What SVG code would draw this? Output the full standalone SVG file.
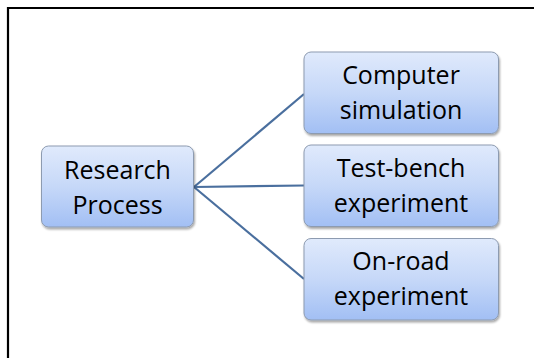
<svg xmlns="http://www.w3.org/2000/svg" width="534" height="358" viewBox="0 0 534 358">
<defs>
<linearGradient id="g" x1="0" y1="0" x2="0" y2="1">
<stop offset="0" stop-color="#e0eafc"/>
<stop offset="0.5" stop-color="#c6d8f8"/>
<stop offset="1" stop-color="#a2bff4"/>
</linearGradient>
<filter id="sh" x="-10%" y="-10%" width="120%" height="130%">
<feGaussianBlur in="SourceAlpha" stdDeviation="1.2"/>
<feOffset dx="0.8" dy="1.5" result="b"/>
<feComponentTransfer><feFuncA type="linear" slope="0.35"/></feComponentTransfer>
<feMerge><feMergeNode/><feMergeNode in="SourceGraphic"/></feMerge>
</filter>
</defs>
<style>
.box{fill:url(#g);stroke:#8d9bb0;stroke-width:1;filter:url(#sh)}
.t{font-family:"Open Sans","Liberation Sans",sans-serif;font-size:25px;fill:#000;text-anchor:middle}
.c{stroke:#4a6f9e;stroke-width:2.2;fill:none}
.frame{stroke:#000;stroke-width:2.2;fill:none}
</style>
<rect width="534" height="358" fill="#fff"/>
<path class="frame" d="M8,358 V8 H534"/>
<g id="connectors">
<line class="c" x1="194" y1="187" x2="304" y2="94"/>
<line class="c" x1="194" y1="187" x2="304" y2="185.5"/>
<line class="c" x1="194" y1="187" x2="304" y2="279"/>
</g>
<g id="research">
<rect class="box" x="41.5" y="146" width="152" height="81" rx="7"/>
<text class="t" x="117.5" y="179">Research</text>
<text class="t" x="117.5" y="213.5">Process</text>
</g>
<g id="computer">
<rect class="box" x="304" y="52" width="194.5" height="81.5" rx="7"/>
<text class="t" x="401" y="83.5">Computer</text>
<text class="t" x="401" y="118.5">simulation</text>
</g>
<g id="testbench">
<rect class="box" x="304" y="145" width="194.5" height="81.5" rx="7"/>
<text class="t" x="401" y="177">Test-bench</text>
<text class="t" x="401" y="211.5">experiment</text>
</g>
<g id="onroad">
<rect class="box" x="304" y="238.5" width="194.5" height="81.5" rx="7"/>
<text class="t" x="401" y="270">On-road</text>
<text class="t" x="401" y="305">experiment</text>
</g>
</svg>
